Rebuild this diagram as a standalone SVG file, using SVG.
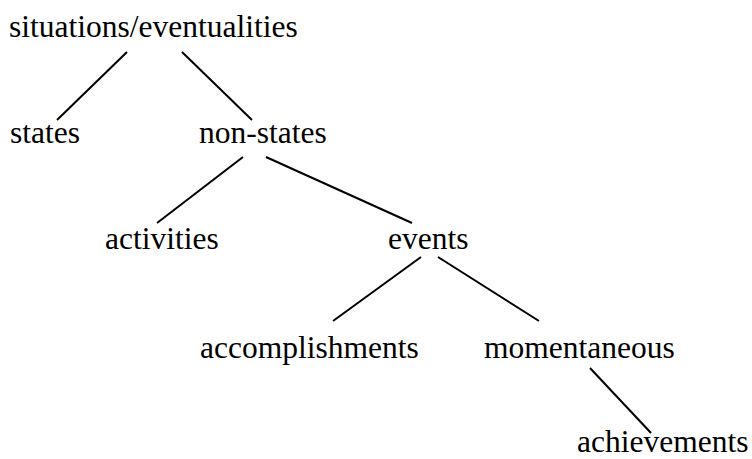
<svg xmlns="http://www.w3.org/2000/svg" width="752" height="459" viewBox="0 0 752 459">
<style>
text{font-family:"Liberation Serif","Times New Roman",serif;font-size:31.5px;fill:#000}
line{stroke:#000;stroke-width:2}
</style>
<rect width="752" height="459" fill="#fff"/>
<g id="connectors">
<line x1="127" y1="52" x2="57" y2="120"/>
<line x1="182" y1="52" x2="252" y2="120"/>
<line x1="243" y1="157" x2="157" y2="223"/>
<line x1="266" y1="157" x2="412" y2="223"/>
<line x1="421" y1="257" x2="333" y2="321"/>
<line x1="438" y1="257" x2="539" y2="321"/>
<line x1="590" y1="368" x2="651" y2="433"/>
</g>
<g id="n-situations"><text x="9" y="37">situations/eventualities</text></g>
<g id="n-states"><text x="10" y="143">states</text></g>
<g id="n-nonstates"><text x="199" y="143">non-states</text></g>
<g id="n-activities"><text x="105" y="249">activities</text></g>
<g id="n-events"><text x="388" y="249">events</text></g>
<g id="n-accomplishments"><text x="200" y="358">accomplishments</text></g>
<g id="n-momentaneous"><text x="484" y="358">momentaneous</text></g>
<g id="n-achievements"><text x="577" y="452">achievements</text></g>
</svg>
